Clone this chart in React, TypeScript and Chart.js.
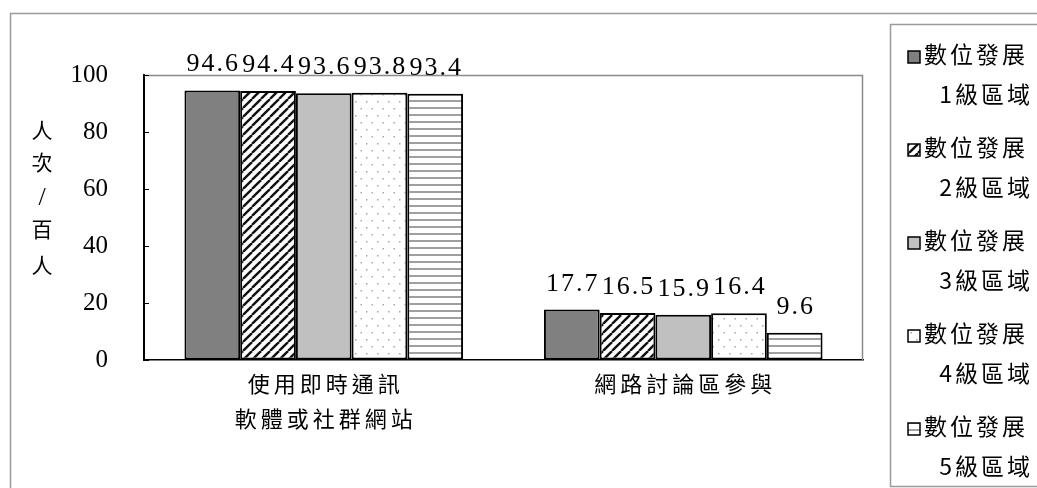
import React, { useEffect, useRef } from "react";
import { Chart, registerables } from "chart.js";

Chart.register(...registerables);

const categories: string[][] = [["使用即時通訊", "軟體或社群網站"], ["網路討論區參與"]];
const seriesLines: string[][] = [
  ["數位發展", "1級區域"],
  ["數位發展", "2級區域"],
  ["數位發展", "3級區域"],
  ["數位發展", "4級區域"],
  ["數位發展", "5級區域"],
];
const level1 = [94.6, 17.7];
const level2 = [94.4, 16.5];
const level3 = [93.6, 15.9];
const level4 = [93.8, 16.4];
const level5 = [93.4, 9.6];
const yTicks = [0, 20, 40, 60, 80, 100];
const yTitle = ["人", "次", "/", "百", "人"];

const FONT = "'Liberation Serif', 'Noto Sans CJK TC', serif";
const CJK = "'Liberation Serif', 'Noto Sans CJK TC', sans-serif";

function makePattern(kind: string): CanvasPattern | string {
  const c = document.createElement("canvas");
  const ctx = c.getContext("2d")!;
  if (kind === "diag") {
    c.width = 9; c.height = 9;
    ctx.fillStyle = "#fff"; ctx.fillRect(0, 0, 9, 9);
    ctx.strokeStyle = "#111"; ctx.lineWidth = 2.4;
    for (const o of [-9, 0, 9]) {
      ctx.beginPath(); ctx.moveTo(o, 9); ctx.lineTo(o + 9, 0); ctx.stroke();
    }
  } else if (kind === "dots") {
    c.width = 11; c.height = 14;
    ctx.fillStyle = "#fff"; ctx.fillRect(0, 0, 11, 14);
    ctx.fillStyle = "#a8a8a8";
    ctx.fillRect(3, 3, 1.5, 1.5);
    ctx.fillRect(8.5, 10, 1.5, 1.5);
  } else if (kind === "hlines") {
    c.width = 8; c.height = 7;
    ctx.fillStyle = "#fff"; ctx.fillRect(0, 0, 8, 7);
    ctx.fillStyle = "#a0a0a0"; ctx.fillRect(0, 2, 8, 2);
  } else {
    return kind;
  }
  return ctx.createPattern(c, "repeat")!;
}

export default function App() {
  const ref = useRef<HTMLCanvasElement | null>(null);
  useEffect(() => {
    if (!ref.current) return;
    const fills = [
      makePattern("#808080"),
      makePattern("diag"),
      makePattern("#c0c0c0"),
      makePattern("dots"),
      makePattern("hlines"),
    ];
    const values = [level1, level2, level3, level4, level5];

    const decor = {
      id: "decor",
      beforeDraw(chart: any) {
        const ctx = chart.ctx as CanvasRenderingContext2D;
        ctx.save();
        ctx.fillStyle = "#fff";
        ctx.fillRect(0, 0, chart.width, chart.height);
        ctx.strokeStyle = "#9a9a9a";
        ctx.lineWidth = 1.5;
        ctx.beginPath();
        ctx.moveTo(10.5, chart.height + 2);
        ctx.lineTo(10.5, 13.5);
        ctx.lineTo(chart.width + 2, 13.5);
        ctx.stroke();
        ctx.restore();
      },
      afterDatasetsDraw(chart: any) {
        const ctx = chart.ctx as CanvasRenderingContext2D;
        const area = chart.chartArea;
        const yScale = chart.scales.y;
        const xScale = chart.scales.x;
        ctx.save();
        ctx.strokeStyle = "#8a8a8a";
        ctx.lineWidth = 1.5;
        ctx.beginPath();
        ctx.moveTo(area.left, area.top + 0.5);
        ctx.lineTo(area.right - 0.5, area.top + 0.5);
        ctx.lineTo(area.right - 0.5, area.bottom);
        ctx.stroke();
        ctx.strokeStyle = "#000";
        ctx.lineWidth = 1;
        for (const t of yTicks) {
          const y = Math.round(yScale.getPixelForValue(t)) + 0.5;
          ctx.beginPath();
          ctx.moveTo(area.left, y);
          ctx.lineTo(area.left + 5, y);
          ctx.stroke();
        }
        // data labels
        ctx.fillStyle = "#000";
        ctx.font = `26px ${FONT}`;
        (ctx as any).letterSpacing = "2px";
        ctx.textAlign = "center";
        ctx.textBaseline = "alphabetic";
        chart.data.datasets.forEach((ds: any, di: number) => {
          const meta = chart.getDatasetMeta(di);
          meta.data.forEach((el: any, i: number) => {
            ctx.fillText(String(ds.data[i]), el.x + 1, el.y - 19);
          });
        });
        // category labels
        ctx.font = `22px ${CJK}`;
        (ctx as any).letterSpacing = "4px";
        ctx.textBaseline = "middle";
        categories.forEach((lines, i) => {
          const cx = xScale.getPixelForValue(i) + 2;
          lines.forEach((ln, j) => {
            ctx.fillText(ln, cx, 386 + j * 35);
          });
        });
        // y title
        (ctx as any).letterSpacing = "0px";
        const titleY = [132, 164, 198, 231, 267];
        yTitle.forEach((ch, i) => {
          ctx.font = ch === "/" ? `26px ${FONT}` : `21px ${CJK}`;
          ctx.fillText(ch, 42, titleY[i]);
        });
        // legend box
        ctx.strokeStyle = "#9a9a9a";
        ctx.lineWidth = 1.5;
        ctx.beginPath();
        ctx.moveTo(chart.width + 2, 24.5);
        ctx.lineTo(890.5, 24.5);
        ctx.lineTo(890.5, 486.5);
        ctx.lineTo(chart.width + 2, 486.5);
        ctx.stroke();
        // legend items
        seriesLines.forEach((lines, k) => {
          const y1 = 57 + 93 * k;
          const y2 = y1 + 37;
          ctx.fillStyle = fills[k] as any;
          ctx.fillRect(908, y1 - 6, 12, 12);
          ctx.strokeStyle = "#000";
          ctx.lineWidth = 1.5;
          ctx.strokeRect(908, y1 - 6, 12, 12);
          ctx.fillStyle = "#000";
          ctx.font = `23px ${CJK}`;
          (ctx as any).letterSpacing = "3px";
          ctx.textAlign = "left";
          ctx.fillText(lines[0], 924, y1);
          ctx.textAlign = "right";
          ctx.font = `23px 'Noto Sans CJK TC', sans-serif`;
          ctx.fillText(lines[1], 1033, y2);
        });
        ctx.restore();
      },
    };

    const chart = new Chart(ref.current, {
      type: "bar",
      data: {
        labels: categories.map((c) => c.join("")),
        datasets: values.map((v, k) => ({
          label: seriesLines[k].join(""),
          data: v,
          backgroundColor: fills[k] as any,
          borderColor: "#000",
          borderWidth: 2,
          borderSkipped: false,
          categoryPercentage: 0.775,
          barPercentage: 1,
        })),
      },
      options: {
        animation: false,
        responsive: true,
        maintainAspectRatio: false,
        layout: { padding: { left: 0, top: 75, right: 174, bottom: 0 } },
        plugins: {
          legend: { display: false },
          tooltip: { enabled: false },
          title: { display: false },
        },
        scales: {
          x: {
            grid: { display: false, drawTicks: false },
            border: { display: true, color: "#000", width: 1.5 },
            ticks: { display: false },
            afterFit: (s: any) => { s.height = 128; },
          },
          y: {
            min: 0,
            max: 100,
            afterBuildTicks: (s: any) => { s.ticks = yTicks.map((v) => ({ value: v })); },
            grid: { display: true, drawOnChartArea: false, drawTicks: false },
            border: { display: true, color: "#000", width: 2 },
            ticks: {
              padding: 36,
              color: "#000",
              font: { family: FONT, size: 25 },
            },
            afterFit: (s: any) => { s.width = 144; },
          },
        },
      },
      plugins: [decor],
    });
    return () => chart.destroy();
  }, []);

  return (
    <div style={{ position: "fixed", left: 0, top: 0, width: 1037, height: 488, background: "#fff" }}>
      <canvas ref={ref} />
    </div>
  );
}
